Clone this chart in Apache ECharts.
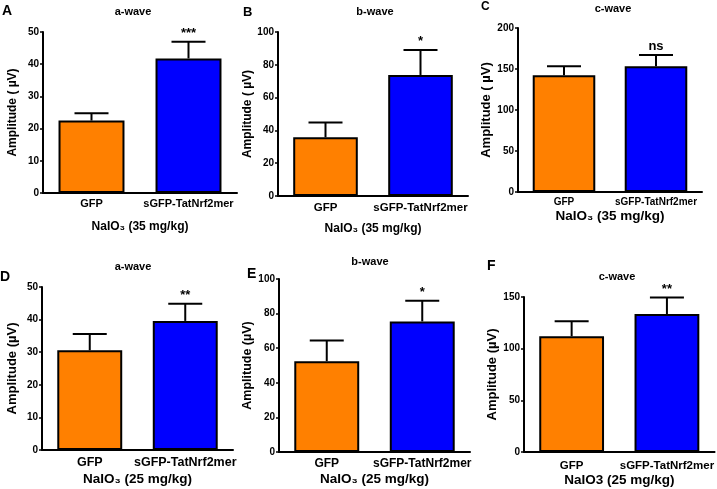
<!DOCTYPE html>
<html>
<head>
<meta charset="utf-8">
<script src="https://cdn.jsdelivr.net/npm/echarts@6/dist/echarts.min.js"></script>
<style>
    html, body {margin:0; padding:0; background:#fff;}
    #main {width:717px; height:489px;}
</style>
</head>
<body>
<div id="main"></div>
<script>
// data
var categories = ["GFP", "sGFP-TatNrf2mer"];
var barColors = ["#ff8000", "#0000ff"];

var panelLetters = ["A", "B", "C", "D", "E", "F"];
var panelTitles = ["a-wave", "b-wave", "c-wave", "a-wave", "b-wave", "c-wave"];
var yNames = ["Amplitude ( \u00b5V)", "Amplitude ( \u00b5V)", "Amplitude ( \u00b5V)",
              "Amplitude (\u00b5V)", "Amplitude (\u00b5V)", "Amplitude (\u00b5V)"];
var xNames = ["NaIO\u2083 (35 mg/kg)", "NaIO\u2083 (35 mg/kg)", "NaIO\u2083 (35 mg/kg)",
              "NaIO\u2083 (25 mg/kg)", "NaIO\u2083 (25 mg/kg)", "NaIO3 (25 mg/kg)"];
var yMax = [50, 100, 200, 50, 100, 150];
var yInterval = [10, 20, 50, 10, 20, 50];

var meansA = [22.5, 41.8], errA = [2.3, 5.2];
var meansB = [35.8, 73.8], errB = [9, 15.2];
var meansC = [142.5, 153.5], errC = [11, 13.5];
var meansD = [30.6, 39.6], errD = [5, 5.3];
var meansE = [52.5, 75.5], errE = [12, 12];
var meansF = [112, 133.5], errF = [14.5, 16];
var means = [meansA, meansB, meansC, meansD, meansE, meansF];
var errs = [errA, errB, errC, errD, errE, errF];
var signif = ["***", "*", "ns", "**", "*", "**"];

// layout of each little plot (pixels)
var grids = [
    {left:43, top:32, width:194, height:161},
    {left:278, top:32, width:190, height:164},
    {left:518, top:28, width:184, height:164},
    {left:42, top:287, width:191, height:163},
    {left:279, top:279, width:191, height:173},
    {left:524, top:297, width:191, height:155}
];
var xNameGap = [28, 27, 17, 22, 20, 19];
var xNameSize = [12, 12, 13.5, 13.5, 13.5, 13.5];
var yNameSize = [12, 12, 13, 13, 12.5, 13];
var yNameGap = [24, 24, 23, 23, 24, 23];
var catSize = [11, 11.5, 10, 12.5, 12, 11.5];
var xLabelMargin = [5, 6, 5, 6, 6, 8];
var letterPos = [[2, 4], [243, 6], [481, 1], [0, 270], [247, 267], [487, 259]];
var letterSize = [14, 13, 12, 14, 14, 14];
var titlePos = [[133, 12], [375, 12], [613, 9], [133, 267], [370, 262], [617, 277]];

var font = "'Liberation Sans', Arial, sans-serif";
var myChart = echarts.init(document.getElementById("main"));

var xAxes = [], yAxes = [], series = [], graphics = [];
for (var i = 0; i < 6; i++) {
    xAxes.push({
        type: 'category',
        gridIndex: i,
        data: categories,
        name: xNames[i],
        nameLocation: 'middle',
        nameGap: xNameGap[i],
        nameTextStyle: {fontFamily: font, fontWeight: 'bold', fontSize: xNameSize[i], color: '#000'},
        axisLine: {lineStyle: {color: '#000', width: 2}},
        axisTick: {alignWithLabel: true, length: 3, lineStyle: {color: '#000', width: 1.5}},
        axisLabel: {interval: 0, fontFamily: font, fontWeight: 'bold', fontSize: catSize[i],
                    color: '#000', margin: xLabelMargin[i]}
    });
    yAxes.push({
        type: 'value',
        gridIndex: i,
        min: 0,
        max: yMax[i],
        interval: yInterval[i],
        name: yNames[i],
        nameLocation: 'middle',
        nameRotate: 90,
        nameGap: yNameGap[i],
        nameTextStyle: {fontFamily: font, fontWeight: 'bold', fontSize: yNameSize[i], color: '#000'},
        splitLine: {show: false},
        axisLine: {show: true, lineStyle: {color: '#000', width: 2}},
        axisTick: {show: true, length: 3, lineStyle: {color: '#000', width: 1.5}},
        axisLabel: {fontFamily: font, fontWeight: 'bold', fontSize: 10, color: '#000', margin: 4}
    });

    var barData = [];
    var errData = [];
    for (var j = 0; j < categories.length; j++) {
        barData.push({
            value: means[i][j],
            itemStyle: {color: barColors[j], borderColor: '#000', borderWidth: 2}
        });
        errData.push([j, means[i][j], errs[i][j], j == 1 ? signif[i] : ""]);
    }
    series.push({
        type: 'bar',
        xAxisIndex: i,
        yAxisIndex: i,
        barWidth: '68%',
        data: barData,
        silent: true
    });
    series.push({
        type: 'custom',
        xAxisIndex: i,
        yAxisIndex: i,
        data: errData,
        z: 5,
        renderItem: function (params, api) {
            var x = api.value(0);
            var base = api.coord([x, api.value(1)]);
            var top = api.coord([x, api.value(1) + api.value(2)]);
            var children = [
                {type: 'line', shape: {x1: base[0], y1: base[1], x2: top[0], y2: top[1]},
                 style: {stroke: '#000', lineWidth: 2}},
                {type: 'line', shape: {x1: top[0] - 17, y1: top[1], x2: top[0] + 17, y2: top[1]},
                 style: {stroke: '#000', lineWidth: 2}}
            ];
            var s = api.value(3);
            if (s) {
                children.push({type: 'text', x: top[0], y: top[1] - 2,
                    style: {text: s, align: 'center', verticalAlign: 'bottom',
                            font: 'bold 13px ' + font, fill: '#000'}});
            }
            return {type: 'group', children: children};
        }
    });

    graphics.push({type: 'text', left: letterPos[i][0], top: letterPos[i][1],
        style: {text: panelLetters[i], font: 'bold ' + letterSize[i] + 'px ' + font, fill: '#000'}});
    graphics.push({type: 'text', x: titlePos[i][0], y: titlePos[i][1],
        style: {text: panelTitles[i], align: 'center', verticalAlign: 'middle',
                font: 'bold 11px ' + font, fill: '#000'}});
}

var gridList = [];
for (var k = 0; k < grids.length; k++) {
    gridList.push({left: grids[k].left, top: grids[k].top, width: grids[k].width,
                   height: grids[k].height, containLabel: false});
}

var option = {
    animation: false,
    backgroundColor: '#fff',
    grid: gridList,
    xAxis: xAxes,
    yAxis: yAxes,
    series: series,
    graphic: graphics
};
myChart.setOption(option);
</script>
</body>
</html>
